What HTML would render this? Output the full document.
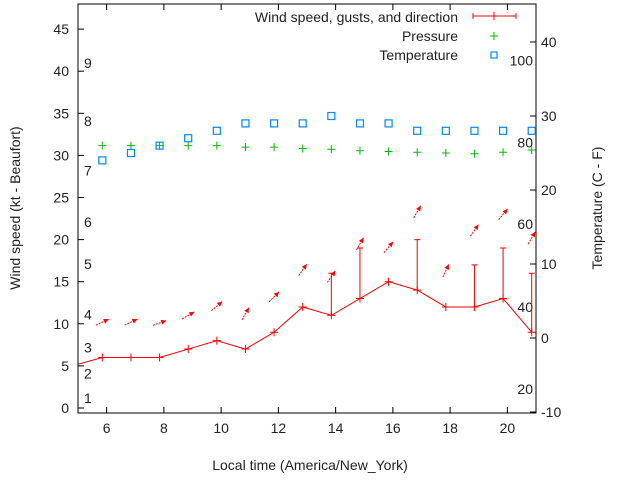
<!DOCTYPE html>
<html><head><meta charset="utf-8"><style>
body{margin:0;background:#fff}
svg{font-family:"Liberation Sans",sans-serif;font-size:14px;fill:#222}
</style></head><body>
<svg id="c" width="640" height="480" viewBox="0 0 640 480"></svg>
<script>
const hours=[5.85,6.85,7.85,8.85,9.85,10.85,11.85,12.85,13.85,14.85,15.85,16.85,17.85,18.85,19.85,20.85];
const wind=[6,6,6,7,8,7,9,12,11,13,15,14,12,12,13,9];
const gusts=[null,null,null,null,null,null,null,null,16,19,null,20,null,17,19,16];
const gustFix=[null,null,null,null,null,null,null,null,16,19,20,20,null,17,19,16];
const arrowPos=[10.2,10.2,10.1,11,12.1,11.2,13.2,16.4,15.6,19.5,19.1,23.3,16.3,21.1,23,20.2];
const arrowAng=[25,25,20,30,40,60,45,55,55,60,50,60,65,55,50,60];
const tempC=[24,25,26,27,28,29,29,29,30,29,29,28,28,28,28,28];
const pressure=[26,26,26,26,26,25.8,25.8,25.6,25.5,25.3,25.2,25.1,25,24.9,25.1,25.4];
const xTicks=[6,8,10,12,14,16,18,20];
const yTicks=[0,5,10,15,20,25,30,35,40,45];
const y2Ticks=[-10,0,10,20,30,40];
const beaufort=[[1,1.2],[2,4.1],[3,7.2],[4,11.1],[5,17.1],[6,22.1],[7,28.2],[8,34.1],[9,41]];
const fLabels=[[20,-6.9],[40,4.2],[60,15.4],[80,26.4],[100,37.5]];
const L=78,R=536,T=4,B=413;
const X=h=>L+(h-5)/16*(R-L);
const Y=v=>408-v*8.42;
const Y2=v=>338-v*7.4;
const s=document.getElementById('c');
function el(t,a,txt){const e=document.createElementNS('http://www.w3.org/2000/svg',t);for(const k in a)e.setAttribute(k,a[k]);if(txt!=null)e.textContent=txt;s.appendChild(e);return e;}
let e;
e=el('rect',{x:L,y:T,width:R-L,height:B-T,fill:'none',stroke:'#000','stroke-width':1});

xTicks.forEach(h=>{const x=X(h);
 e=el('path',{d:`M${x} ${B}v-6M${x} ${T}v6`,stroke:'#000'});
 e=el('text',{x:x,y:B+20,'text-anchor':'middle'},h);});
yTicks.forEach(v=>{const y=Y(v);
 e=el('path',{d:`M${L} ${y}h6`,stroke:'#000'});
 e=el('text',{x:L-9,y:y+5,'text-anchor':'end'},v);});
y2Ticks.forEach(v=>{const y=Y2(v);
 e=el('path',{d:`M${R} ${y}h-6`,stroke:'#000'});
 e=el('text',{x:R+5,y:y+5},v);});
beaufort.forEach(b=>{e=el('text',{x:84,y:Y(b[1])+5},b[0]);});
fLabels.forEach(b=>{e=el('text',{x:533,y:Y2(b[1])+5,'text-anchor':'end'},b[0]);});
// wind line
let d=`M${L} ${Y(5.2)}`;hours.forEach((h,i)=>d+=`L${X(h)} ${Y(wind[i])}`);
e=el('path',{d:d,fill:'none',stroke:'#f00'});
hours.forEach((h,i)=>{const x=X(h),y=Y(wind[i]);
 e=el('path',{d:`M${x-4} ${y}h8M${x} ${y-4}v8`,stroke:'#f00'});
 if(gusts[i]!=null){const g=Y(gusts[i]);
  e=el('path',{d:`M${x} ${y}V${g}M${x-3} ${g}h6`,stroke:'#f00'});}
 const a=arrowAng[i]*Math.PI/180,cx=x,cy=Y(arrowPos[i]),dx=7*Math.cos(a),dy=-7*Math.sin(a);
 const x2=cx+dx,y2=cy+dy,ux=dx/7,uy=dy/7;
 e=el('path',{d:`M${cx-dx} ${cy-dy}L${x2} ${y2}`,stroke:'#f00','stroke-dasharray':'2,1'});
 e=el('path',{d:`M${x2} ${y2}L${x2-5*ux-2.5*uy} ${y2-5*uy+2.5*ux}L${x2-5*ux+2.5*uy} ${y2-5*uy-2.5*ux}Z`,fill:'#f00'});
 const py=Y2(pressure[i]);
 e=el('path',{d:`M${x-4} ${py}h8M${x} ${py-4}v8`,stroke:'#0b0'});
 const ty=Y2(tempC[i]);
 e=el('rect',{x:x-3.5,y:ty-3.5,width:7,height:7,fill:'none',stroke:'#08f','stroke-width':1.2});
});
// legend
e=el('text',{x:458,y:22,'text-anchor':'end'},'Wind speed, gusts, and direction');
e=el('path',{d:'M473 16h43M473 13v6M516 13v6M494 12v8',stroke:'#f00'});
e=el('text',{x:458,y:41,'text-anchor':'end'},'Pressure');
e=el('path',{d:'M490 36h8M494 32v8',stroke:'#0b0'});
e=el('text',{x:458,y:60,'text-anchor':'end'},'Temperature');
e=el('rect',{x:491,y:52,width:6,height:6,fill:'none',stroke:'#08f','stroke-width':1.2});
e=el('text',{x:310,y:470,'text-anchor':'middle'},'Local time (America/New_York)');
e=el('text',{x:20,y:208,'text-anchor':'middle',transform:'rotate(-90 20 208)'},'Wind speed (kt - Beaufort)');
e=el('text',{x:602,y:208,'text-anchor':'middle',transform:'rotate(-90 602 208)'},'Temperature (C - F)');
</script>
</body></html>
